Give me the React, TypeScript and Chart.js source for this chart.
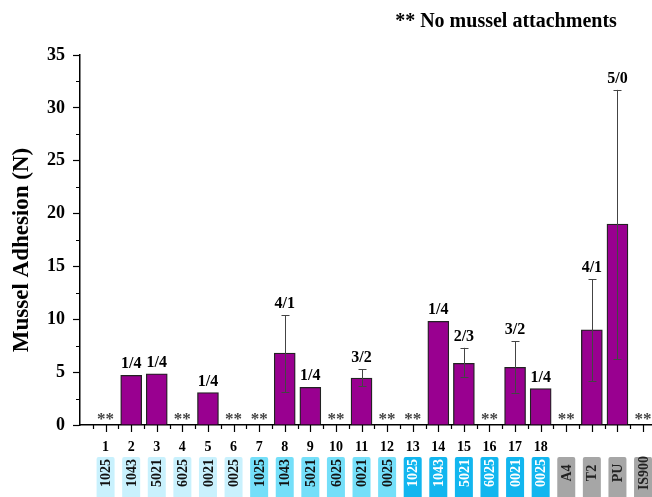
import React, { useEffect, useRef } from "react";
import { Chart, registerables } from "chart.js";

Chart.register(...registerables);

// ---- Data ----
const positions = [1, 2, 3, 4, 5, 6, 7, 8, 9, 10, 11, 12, 13, 14, 15, 16, 17, 18, 19, 20, 21, 22];
const numberLabels = ["1", "2", "3", "4", "5", "6", "7", "8", "9", "10", "11", "12", "13", "14", "15", "16", "17", "18", "", "", "", ""];
const codes = [
  "1025", "1043", "5021", "6025", "0021", "0025",
  "1025", "1043", "5021", "6025", "0021", "0025",
  "1025", "1043", "5021", "6025", "0021", "0025",
  "A4", "T2", "PU", "IS900",
];
const groups = [
  "light", "light", "light", "light", "light", "light",
  "medium", "medium", "medium", "medium", "medium", "medium",
  "bright", "bright", "bright", "bright", "bright", "bright",
  "grey", "grey", "grey", "grey",
];
const adhesion: (number | null)[] = [
  null, 4.7, 4.85, null, 3.06, null, null, 6.8, 3.57, null, 4.45,
  null, null, 9.8, 5.83, null, 5.46, 3.44, null, 9.0, 19.0, null,
];
const errLow: (number | null)[] = [
  null, null, null, null, null, null, null, 3.1, null, null, 3.69,
  null, null, null, 4.57, null, 3.06, null, null, 4.13, 6.2, null,
];
const errHigh: (number | null)[] = [
  null, null, null, null, null, null, null, 10.4, null, null, 5.27,
  null, null, null, 7.3, null, 7.9, null, null, 13.8, 31.7, null,
];
const ratios = [
  "", "1/4", "1/4", "", "1/4", "", "", "4/1", "1/4", "", "3/2",
  "", "", "1/4", "2/3", "", "3/2", "1/4", "", "4/1", "5/0", "",
];
const yTicks = [0, 5, 10, 15, 20, 25, 30, 35];
const yTitle = "Mussel Adhesion (N)";
const noteText = "** No mussel attachments";
const starText = "**";

const SERIF = "'Liberation Serif', 'Times New Roman', serif";
const boxFill: Record<string, string> = {
  light: "#c9f1fd",
  medium: "#74dff9",
  bright: "#12b6ef",
  grey: "#a6a6a6",
};
const boxText: Record<string, string> = {
  light: "#111111",
  medium: "#111111",
  bright: "#ffffff",
  grey: "#222222",
};

const decorPlugin = {
  id: "decor",
  afterDatasetsDraw(chart: any) {
    const ctx = chart.ctx;
    const xs = chart.scales.x;
    const ys = chart.scales.y;
    const area = chart.chartArea;
    ctx.save();

    // error bars
    ctx.strokeStyle = "#444";
    ctx.lineWidth = 1;
    positions.forEach((p, i) => {
      const lo = errLow[i];
      const hi = errHigh[i];
      if (lo == null || hi == null) return;
      const x = Math.round(xs.getPixelForValue(p)) + 0.5;
      const yl = ys.getPixelForValue(lo);
      const yh = ys.getPixelForValue(hi);
      ctx.beginPath();
      ctx.moveTo(x, yl);
      ctx.lineTo(x, yh);
      ctx.moveTo(x - 4, Math.round(yl) + 0.5);
      ctx.lineTo(x + 4, Math.round(yl) + 0.5);
      ctx.moveTo(x - 4, Math.round(yh) + 0.5);
      ctx.lineTo(x + 4, Math.round(yh) + 0.5);
      ctx.stroke();
    });

    // ratio labels
    ctx.fillStyle = "#000";
    ctx.font = `bold 16px ${SERIF}`;
    ctx.textAlign = "center";
    ctx.textBaseline = "alphabetic";
    positions.forEach((p, i) => {
      if (!ratios[i]) return;
      const top = Math.max(adhesion[i] ?? 0, errHigh[i] ?? 0);
      const x = xs.getPixelForValue(p);
      const y = ys.getPixelForValue(top) - 7;
      ctx.fillText(ratios[i], x, y);
    });

    // no-attachment stars
    ctx.fillStyle = "#444";
    ctx.font = `bold 17px ${SERIF}`;
    positions.forEach((p, i) => {
      if (adhesion[i] != null) return;
      const x = xs.getPixelForValue(p);
      ctx.fillText(starText, x, ys.getPixelForValue(0) - 1);
    });

    // x ticks (major + minor)
    ctx.strokeStyle = "#000";
    ctx.lineWidth = 1.2;
    const base = area.bottom;
    ctx.beginPath();
    for (let v = 0.5; v <= xs.max; v += 0.5) {
      const x = Math.round(xs.getPixelForValue(v)) + 0.5;
      const len = Number.isInteger(v) ? 7 : 4;
      ctx.moveTo(x, base);
      ctx.lineTo(x, base + len);
    }
    // y minor ticks
    for (let v = 2.5; v < ys.max; v += 5) {
      const y = Math.round(ys.getPixelForValue(v)) + 0.5;
      ctx.moveTo(area.left, y);
      ctx.lineTo(area.left - 4, y);
    }
    ctx.stroke();

    // x number labels
    ctx.fillStyle = "#000";
    ctx.font = `bold 14px ${SERIF}`;
    ctx.textBaseline = "middle";
    positions.forEach((p, i) => {
      if (!numberLabels[i]) return;
      ctx.fillText(numberLabels[i], xs.getPixelForValue(p), base + 22);
    });

    // coloured code boxes with vertical text
    positions.forEach((p, i) => {
      const cx = xs.getPixelForValue(p);
      const w = 18;
      const top = base + 32;
      const h = 48;
      ctx.fillStyle = boxFill[groups[i]];
      ctx.beginPath();
      if ((ctx as any).roundRect) (ctx as any).roundRect(cx - w / 2, top, w, h, 2);
      else ctx.rect(cx - w / 2, top, w, h);
      ctx.fill();
      ctx.save();
      ctx.translate(cx, top + 16);
      ctx.rotate(-Math.PI / 2);
      ctx.fillStyle = boxText[groups[i]];
      ctx.font = `bold 14px ${SERIF}`;
      ctx.textAlign = "center";
      ctx.textBaseline = "middle";
      ctx.fillText(codes[i], 0, 1);
      ctx.restore();
    });

    // y axis title
    ctx.save();
    ctx.translate(22, 250);
    ctx.rotate(-Math.PI / 2);
    ctx.fillStyle = "#000";
    ctx.font = `bold 23px ${SERIF}`;
    ctx.textAlign = "center";
    ctx.textBaseline = "middle";
    ctx.fillText(yTitle, 0, 0);
    ctx.restore();

    // note
    ctx.fillStyle = "#000";
    ctx.font = `bold 20px ${SERIF}`;
    ctx.textAlign = "center";
    ctx.textBaseline = "middle";
    ctx.fillText(noteText, 506, 22);

    ctx.restore();
  },
};

export default function App() {
  const ref = useRef<HTMLCanvasElement | null>(null);
  useEffect(() => {
    if (!ref.current) return;
    const chart = new Chart(ref.current, {
      type: "bar",
      data: {
        datasets: [
          {
            data: positions.map((p, i) => ({ x: p, y: adhesion[i] })) as any,
            backgroundColor: "#990090",
            borderColor: "#222",
            borderWidth: 1.3,
            barThickness: 21,
          },
        ],
      },
      options: {
        responsive: false,
        animation: false,
        layout: { padding: { top: 55, left: 0, right: 0, bottom: 0 } },
        plugins: {
          legend: { display: false },
          tooltip: { enabled: false },
        },
        scales: {
          x: {
            type: "linear",
            min: 0,
            max: 22.35,
            offset: false,
            grid: { display: true, drawOnChartArea: false, drawTicks: false, offset: false },
            border: { display: true, color: "#000", width: 1.5 },
            ticks: { display: false },
            afterFit: (s: any) => {
              s.height = 72;
            },
          },
          y: {
            min: 0,
            max: 35,
            afterBuildTicks: (s: any) => {
              s.ticks = yTicks.map((v) => ({ value: v }));
            },
            grid: {
              display: true,
              drawOnChartArea: false,
              drawTicks: true,
              tickLength: 7,
              tickColor: "#000",
              tickWidth: 1.2,
            },
            border: { display: true, color: "#000", width: 1.5 },
            ticks: {
              color: "#000",
              padding: 8,
              font: { family: SERIF, size: 18, weight: "bold" },
            },
            afterFit: (s: any) => {
              s.width = 80;
            },
          },
        },
      } as any,
      plugins: [decorPlugin],
    });
    return () => chart.destroy();
  }, []);

  return (
    <div style={{ position: "fixed", left: 0, top: 0, width: 652, height: 497, background: "#fff" }}>
      <canvas ref={ref} width={652} height={497} />
    </div>
  );
}
